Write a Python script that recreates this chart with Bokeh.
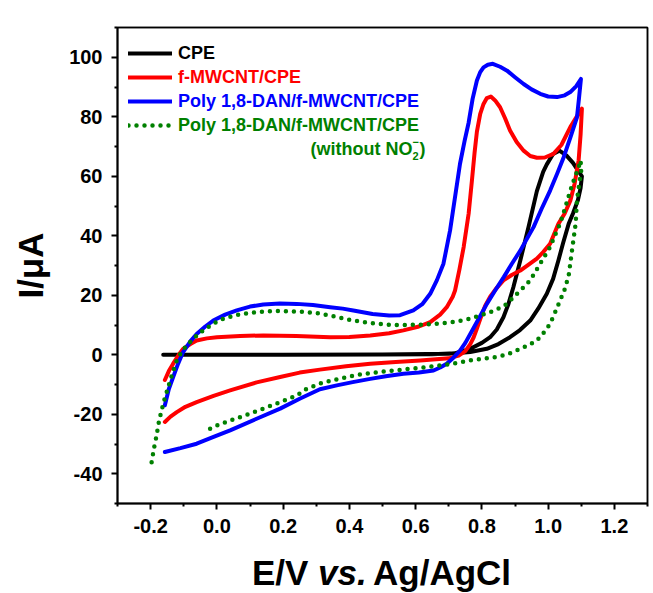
import math
from bokeh.plotting import figure
from bokeh.layouts import column
from bokeh.models import Range1d, FixedTicker, Legend, LegendItem, Label, LinearAxis, Div
from bokeh.embed import file_html
from bokeh.resources import INLINE

# ---------------- data ----------------
cpe_E = [-0.162, 0.0, 0.3, 0.5, 0.65, 0.72, 0.765, 0.80, 0.825, 0.845, 0.865, 0.88, 0.895,
         0.916, 0.941, 0.966, 0.985, 0.996, 1.015, 1.034, 1.055, 1.075, 1.09, 1.102,
         1.098, 1.09, 1.075, 1.062, 1.045, 1.031, 1.015, 0.996, 0.97, 0.946, 0.915, 0.885,
         0.85, 0.815, 0.765, 0.70, 0.5, 0.2, -0.162]
cpe_I = [0.0, 0.0, 0.0, 0.1, 0.2, 0.5, 2.0, 4.0, 5.9, 8.5, 12.6, 17.0, 22.7,
         31.7, 43.0, 55.0, 61.5, 64.0, 67.5, 68.6, 67.0, 64.5, 62.0, 60.0,
         56.0, 52.0, 47.5, 44.0, 37.5, 31.7, 25.5, 20.5, 15.5, 11.5, 8.3, 5.9,
         3.6, 2.0, 0.9, 0.3, 0.1, 0.0, 0.0]

mw_E = [-0.157, -0.145, -0.132, -0.115, -0.102, -0.08, -0.061, -0.03, 0.0, 0.07, 0.14, 0.24,
        0.342, 0.40, 0.463, 0.52, 0.563, 0.61, 0.644, 0.674, 0.694, 0.712, 0.719, 0.732,
        0.745, 0.760, 0.770, 0.778, 0.785, 0.795, 0.805, 0.815, 0.827, 0.84, 0.855, 0.87,
        0.885, 0.905, 0.926, 0.946, 0.966, 0.99, 1.016, 1.04, 1.067, 1.085, 1.102,
        1.098, 1.092, 1.08, 1.067, 1.05, 1.031, 1.006, 0.985, 0.966, 0.94, 0.916, 0.89,
        0.865, 0.845, 0.825, 0.81, 0.795, 0.785, 0.775, 0.765, 0.75, 0.73, 0.70, 0.614,
        0.54, 0.463, 0.39, 0.311, 0.25, 0.191, 0.12, 0.04, -0.01, -0.061, -0.095, -0.121,
        -0.14, -0.157]
mw_I = [-8.5, -5.5, -3.0, 0.0, 2.0, 3.6, 4.8, 5.5, 5.9, 6.3, 6.5, 6.3,
        5.9, 6.0, 6.5, 7.2, 8.2, 9.5, 11.0, 13.5, 16.0, 19.5, 21.6, 28.5,
        36.2, 47.4, 58.6, 68.0, 75.0, 81.0, 84.3, 86.3, 86.8, 85.5, 83.2, 79.5,
        75.4, 71.5, 68.6, 66.8, 66.2, 66.3, 67.5, 70.5, 76.5, 79.8, 82.7,
        74.0, 65.3, 57.5, 51.8, 47.5, 44.0, 37.3, 34.5, 32.3, 30.2, 28.3, 26.8,
        25.0, 22.5, 19.5, 16.5, 12.0, 8.8, 5.8, 3.6, 1.2, -0.3, -1.2, -1.9,
        -2.4, -3.0, -3.9, -5.0, -6.0, -7.5, -9.3, -12.0, -13.8, -15.9, -17.5, -19.3,
        -20.8, -22.6]

dan_E = [-0.157, -0.145, -0.132, -0.117, -0.102, -0.08, -0.061, -0.035, -0.011, 0.025, 0.06,
         0.10, 0.14, 0.19, 0.241, 0.29, 0.342, 0.38, 0.412, 0.47, 0.52, 0.553, 0.593, 0.62,
         0.644, 0.664, 0.684, 0.704, 0.719, 0.734, 0.748, 0.76, 0.772, 0.785, 0.795, 0.805,
         0.818, 0.833, 0.855, 0.876, 0.9, 0.926, 0.95, 0.976, 1.0, 1.027, 1.05, 1.067,
         1.085, 1.099,
         1.093, 1.087, 1.067, 1.047, 1.027, 1.006, 0.98, 0.956, 0.936, 0.916, 0.89, 0.866,
         0.84, 0.815, 0.79, 0.765, 0.75, 0.734, 0.714, 0.694, 0.674, 0.654, 0.61, 0.563,
         0.51, 0.463, 0.41, 0.362, 0.311, 0.25, 0.191, 0.12, 0.04, -0.01, -0.061, -0.11,
         -0.157]
dan_I = [-17.0, -11.5, -7.5, -3.0, 0.9, 4.5, 7.0, 9.5, 11.5, 13.5, 14.9,
         16.2, 16.9, 17.2, 17.1, 16.7, 16.0, 15.5, 14.9, 13.7, 13.2, 13.3, 14.9, 17.0,
         20.5, 25.0, 30.6, 41.8, 53.0, 64.2, 72.0, 78.0, 86.0, 92.2, 95.0, 96.6,
         97.5, 97.8, 96.8, 95.5, 93.3, 91.0, 89.2, 87.7, 86.8, 86.6, 87.2, 88.3,
         90.3, 92.7,
         86.0, 79.8, 73.0, 66.4, 60.8, 55.2, 49.0, 42.9, 39.0, 35.0, 30.5, 26.1,
         21.6, 17.1, 12.0, 7.0, 4.0, 1.4, -1.0, -3.0, -4.3, -5.3, -6.0, -6.4,
         -7.2, -8.1, -9.2, -10.3, -11.6, -14.8, -18.1, -21.5, -25.4, -27.6, -29.9, -31.4,
         -32.7]

blank_E = [-0.197, -0.19, -0.182, -0.175, -0.167, -0.157, -0.147, -0.135, -0.121, -0.105,
           -0.086, -0.065, -0.041, -0.01, 0.02, 0.06, 0.10, 0.15, 0.191, 0.25, 0.302, 0.35,
           0.412, 0.46, 0.513, 0.56, 0.614, 0.66, 0.714, 0.765, 0.795, 0.825, 0.85, 0.876,
           0.896, 0.92, 0.946, 0.976, 1.006, 1.027, 1.036, 1.052, 1.067, 1.08, 1.092, 1.098,
           1.1, 1.092, 1.087, 1.083, 1.072, 1.062, 1.05, 1.036, 1.02, 1.006, 0.985, 0.966,
           0.94, 0.916, 0.89, 0.866, 0.835, 0.805, 0.765, 0.714, 0.66, 0.614, 0.56, 0.513,
           0.46, 0.412, 0.36, 0.311, 0.27, 0.241, 0.19, 0.14, 0.09, 0.04, 0.0, -0.031]
blank_I = [-36.1, -31.5, -27.1, -22.5, -18.7, -14.5, -10.9, -6.5, -1.9, 1.3,
           3.7, 6.0, 8.2, 10.5, 12.1, 13.4, 14.1, 14.6, 14.7, 14.5, 14.0, 13.0,
           11.5, 10.7, 10.1, 10.0, 10.1, 10.4, 11.0, 12.1, 13.2, 14.3, 15.5, 17.1,
           19.4, 22.0, 25.0, 30.6, 36.2, 41.8, 44.0, 49.6, 55.2, 59.5, 63.0, 65.3,
           62.0, 56.0, 51.8, 44.0, 35.0, 26.6, 22.0, 18.2, 14.0, 10.4, 7.2, 4.8,
           3.2, 2.0, 0.7, -0.2, -0.9, -1.3, -1.9, -3.0, -3.8, -4.4, -5.0, -5.5,
           -6.2, -7.0, -8.3, -9.7, -11.5, -13.7, -16.0, -18.1, -20.2, -22.1, -23.8, -25.4]

labels = ["CPE", "f-MWCNT/CPE", "Poly 1,8-DAN/f-MWCNT/CPE", "Poly 1,8-DAN/f-MWCNT/CPE"]
colors = ["#000000", "#ff0000", "#0000ff", "#008000"]

x_major = [-0.2, 0.0, 0.2, 0.4, 0.6, 0.8, 1.0, 1.2]
x_tick_labels = ["-0.2", "0.0", "0.2", "0.4", "0.6", "0.8", "1.0", "1.2"]
x_minor = [-0.3, -0.1, 0.1, 0.3, 0.5, 0.7, 0.9, 1.1, 1.3]
y_major = [-40, -20, 0, 20, 40, 60, 80, 100]
y_tick_labels = ["-40", "-20", "0", "20", "40", "60", "80", "100"]
y_minor = [-50, -30, -10, 10, 30, 50, 70, 90, 110]

x_title = [("E/V", "normal"), ("vs.", "italic"), ("Ag/AgCl", "normal")]
y_title = "I/\u03bcA"

FONT = "Liberation Sans"
W, H_MAIN, H_TITLE = 653, 548, 45

# ---------------- main figure ----------------
p = figure(width=W, height=H_MAIN, output_backend="svg", toolbar_location=None,
           x_range=Range1d(-0.3, 1.3), y_range=Range1d(-50, 110),
           min_border_left=117, min_border_right=6, min_border_top=27, min_border_bottom=45)
p.xgrid.visible = False
p.ygrid.visible = False
p.outline_line_color = "black"
p.outline_line_width = 1.5

for ax, major, minor, labs in ((p.xaxis[0], x_major, x_minor, x_tick_labels),
                               (p.yaxis[0], y_major, y_minor, y_tick_labels)):
    ax.ticker = FixedTicker(ticks=major, minor_ticks=minor)
    ax.major_label_overrides = {v: s for v, s in zip(major, labs)}
    ax.axis_line_width = 2
    ax.major_tick_line_width = 2
    ax.minor_tick_line_width = 2
    ax.major_tick_out = 6
    ax.major_tick_in = 0
    ax.minor_tick_out = 3
    ax.minor_tick_in = 0
    ax.major_label_text_font = FONT
    ax.major_label_text_font_style = "bold"
    ax.major_label_text_font_size = "20px"
    ax.major_label_text_color = "black"
    ax.major_label_standoff = 9
    ax.axis_label_text_font = FONT
    ax.axis_label_text_font_style = "bold"
    ax.axis_label_text_font_size = "35px"
    ax.axis_label_text_color = "black"

p.yaxis[0].axis_label = y_title
p.yaxis[0].axis_label_standoff = 16

# plain frame lines on top and right (no ticks)
for side in ("above", "right"):
    fr = LinearAxis(ticker=FixedTicker(ticks=[]), major_tick_out=0, major_tick_in=0,
                    minor_tick_out=0, minor_tick_in=0, major_label_text_alpha=0,
                    axis_line_width=1.5, axis_line_color="black")
    p.add_layout(fr, side)

r_cpe = p.line(cpe_E, cpe_I, line_color=colors[0], line_width=4, line_cap="round", line_join="round")
r_mw = p.line(mw_E, mw_I, line_color=colors[1], line_width=4, line_cap="round", line_join="round")
r_dan = p.line(dan_E, dan_I, line_color=colors[2], line_width=4, line_cap="round", line_join="round")
r_blank = p.line(blank_E, blank_I, line_color=colors[3], line_width=4.5, line_cap="round",
                 line_join="round", line_dash="0 8")

# ---------------- legend: one Legend per row so each label has its own colour ----------------
renderers = [r_cpe, r_mw, r_dan, r_blank]
row_y = [438, 414, 390, 366]
for lab, col, ren, ry in zip(labels, colors, renderers, row_y):
    lg = Legend(items=[LegendItem(label=lab, renderers=[ren])], location=(11, ry),
                glyph_width=44, glyph_height=24, label_height=24, label_standoff=6,
                padding=0, margin=0, spacing=0,
                border_line_alpha=0, background_fill_alpha=0,
                label_text_font=FONT, label_text_font_style="bold",
                label_text_font_size="18px", label_text_color=col)
    p.add_layout(lg)

# "(without NO2-)" line under the last legend entry
FL, FB = 117, 503  # x of frame left, y of frame bottom (pixels from top-left)


def sx(px):
    return px - FL


def sy(py):
    return FB - py


p.add_layout(Label(x=sx(412), y=sy(148), x_units="screen", y_units="screen",
                   text="(without NO", text_align="right", text_baseline="middle",
                   text_font=FONT, text_font_style="bold", text_font_size="18px",
                   text_color=colors[3]))
p.add_layout(Label(x=sx(412), y=sy(155), x_units="screen", y_units="screen",
                   text="2", text_align="left", text_baseline="middle",
                   text_font=FONT, text_font_style="bold", text_font_size="11px",
                   text_color=colors[3]))
p.add_layout(Label(x=sx(412), y=sy(141), x_units="screen", y_units="screen",
                   text="\u2212", text_align="left", text_baseline="middle",
                   text_font=FONT, text_font_style="bold", text_font_size="11px",
                   text_color=colors[3]))
p.add_layout(Label(x=sx(425), y=sy(148), x_units="screen", y_units="screen",
                   text=")", text_align="right", text_baseline="middle",
                   text_font=FONT, text_font_style="bold", text_font_size="18px",
                   text_color=colors[3]))

# ---------------- x-axis title strip (mixed bold / bold-italic text) ----------------
spans = "".join(
    '<span style="position:absolute;left:%dpx;top:7px;font-style:%s;">%s</span>' % (px, st, txt)
    for (txt, st), px in zip(x_title, (252, 318, 373)))
title_div = Div(
    text=('<div style="position:relative;width:%dpx;height:%dpx;font-family:\'%s\',Arial,sans-serif;'
          'font-weight:bold;font-size:35px;line-height:35px;color:#000;white-space:nowrap;">%s</div>'
          % (W, H_TITLE, FONT, spans)),
    width=W, height=H_TITLE, margin=0)

layout = column(p, title_div, spacing=0)
open("out.html", "w").write(file_html(layout, INLINE))
